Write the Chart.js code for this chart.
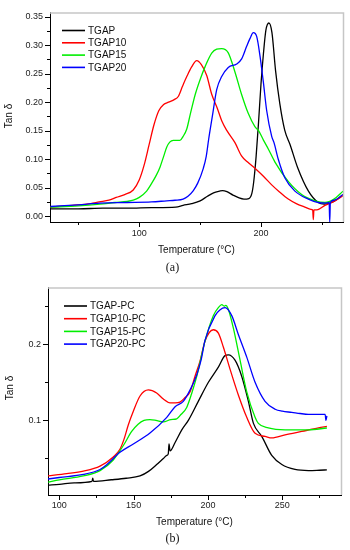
<!DOCTYPE html>
<html>
<head>
<meta charset="utf-8">
<script src="https://cdn.jsdelivr.net/npm/chart.js@4.4.1/dist/chart.umd.min.js"></script>
<style>
  body { margin: 0; background: #fff; width: 350px; height: 550px; position: relative; overflow: hidden;
         font-family: "Liberation Sans", Arial, sans-serif; }
  canvas { position: absolute; left: 0; }
  .t { position: absolute; font-size: 10px; color: #111; white-space: nowrap; transform: translate(-50%, -50%); }
  .yt { transform: translate(-50%, -50%) rotate(-90deg); }
  .cap { font-family: "Liberation Serif", "DejaVu Serif", serif; font-size: 12px; }
</style>
</head>
<body>
<canvas id="chartA" width="350" height="275" style="top:0"></canvas>
<canvas id="chartB" width="350" height="275" style="top:275px"></canvas>
<div class="t yt" style="left:7.5px;top:116px">Tan δ</div>
<div class="t" style="left:196.5px;top:249px">Temperature (°C)</div>
<div class="t cap" style="left:172.5px;top:267px">(a)</div>
<div class="t yt" style="left:9px;top:388px">Tan δ</div>
<div class="t" style="left:194.5px;top:521px">Temperature (°C)</div>
<div class="t cap" style="left:172.5px;top:538px">(b)</div>
<script>
// ---- (a) neat resins ----
const tgapT  = [27, 50, 70, 90, 110, 130, 136, 143, 150, 156, 161, 166, 168.5, 172, 177, 182, 186, 190, 192.5, 194, 196, 198, 200, 202, 204, 206.5, 209, 212, 215.5, 219.5, 224, 230, 239, 247, 252, 258, 263, 267.4];
const tgapV  = [0.013, 0.013, 0.014, 0.014, 0.015, 0.016, 0.019, 0.022, 0.027, 0.035, 0.041, 0.044, 0.045, 0.043, 0.037, 0.032, 0.030, 0.031, 0.040, 0.060, 0.105, 0.165, 0.232, 0.285, 0.326, 0.339, 0.322, 0.255, 0.197, 0.151, 0.125, 0.086, 0.044, 0.024, 0.021, 0.024, 0.030, 0.038];
const tgap10T = [27, 45, 60, 67, 75, 81, 88, 95, 100, 104, 108, 112, 116, 120, 124, 129, 132, 135.5, 139, 143, 147.2, 151, 155.4, 159.5, 164, 168, 172, 178.6, 184, 189, 195, 202, 208.8, 215, 222.4, 229, 236, 241, 242.5, 243, 243.5, 246, 252.6, 260, 267.4];
const tgap10V = [0.016, 0.019, 0.022, 0.025, 0.028, 0.033, 0.038, 0.046, 0.064, 0.090, 0.125, 0.160, 0.185, 0.196, 0.200, 0.205, 0.210, 0.228, 0.245, 0.262, 0.273, 0.266, 0.247, 0.214, 0.190, 0.166, 0.150, 0.129, 0.106, 0.095, 0.084, 0.070, 0.055, 0.043, 0.030, 0.022, 0.016, 0.012, 0.011, -0.006, 0.011, 0.011, 0.019, 0.026, 0.036];
const tgap15T = [27, 50, 67.7, 80, 90, 95, 100, 106, 110, 114, 117, 120, 122.5, 125, 128, 133.4, 136, 139, 142, 146, 150, 154, 159.5, 163.6, 167.7, 173, 178.6, 184, 189.6, 195, 198, 201.9, 206, 211.5, 222.4, 233.4, 244.4, 252.6, 260, 267.4];
const tgap15V = [0.016, 0.018, 0.021, 0.024, 0.026, 0.028, 0.033, 0.044, 0.057, 0.072, 0.086, 0.105, 0.121, 0.130, 0.133, 0.133, 0.140, 0.153, 0.180, 0.214, 0.240, 0.262, 0.286, 0.293, 0.294, 0.287, 0.253, 0.214, 0.180, 0.157, 0.150, 0.134, 0.118, 0.095, 0.061, 0.038, 0.027, 0.024, 0.030, 0.044];
const tgap20T = [27, 50, 67.7, 90, 110, 122.5, 129.3, 136, 140, 144.4, 148, 152.6, 155, 157, 160, 163.6, 167.7, 173.1, 180, 184.1, 188.2, 191, 193.7, 196.5, 199.2, 201.9, 204.7, 208.8, 210.7, 214.2, 219.7, 227.9, 238.9, 247, 253, 256, 256.5, 257, 260, 267.4];
const tgap20V = [0.017, 0.020, 0.023, 0.024, 0.025, 0.027, 0.028, 0.030, 0.035, 0.045, 0.058, 0.084, 0.105, 0.135, 0.175, 0.222, 0.245, 0.261, 0.267, 0.276, 0.298, 0.312, 0.322, 0.315, 0.281, 0.236, 0.185, 0.140, 0.129, 0.100, 0.067, 0.044, 0.030, 0.024, 0.023, 0.024, -0.010, 0.024, 0.028, 0.038];

// ---- (b) PC-modified ----
const pcT   = [92.4, 100, 110, 122, 122.5, 123, 135, 145, 154.3, 160, 165.5, 170, 172.3, 173.3, 173.8, 174.5, 177.9, 182.4, 186.8, 193.5, 200.3, 207, 211.5, 213.7, 218.2, 222.7, 227.2, 230.6, 236.2, 242.9, 249.7, 258.6, 267.6, 275, 280];
const pcV   = [0.015, 0.016, 0.018, 0.020, 0.024, 0.020, 0.022, 0.024, 0.027, 0.033, 0.042, 0.050, 0.054, 0.056, 0.069, 0.060, 0.071, 0.0875, 0.100, 0.125, 0.150, 0.170, 0.185, 0.186, 0.179, 0.158, 0.125, 0.096, 0.079, 0.054, 0.042, 0.0355, 0.034, 0.0345, 0.035];
const pc10T = [92.4, 105, 116.2, 127.4, 136.3, 140.8, 143.5, 146.4, 149.8, 154.3, 159.9, 165.5, 170, 174.5, 178, 181.2, 184.6, 188, 191.3, 194.7, 198, 203.6, 207, 210.4, 214.9, 220.5, 226.1, 231.7, 238.4, 242.9, 251.9, 263.1, 274.3, 280];
const pc10V = [0.027, 0.030, 0.0334, 0.040, 0.052, 0.062, 0.075, 0.094, 0.112, 0.132, 0.140, 0.136, 0.128, 0.123, 0.123, 0.124, 0.130, 0.1375, 0.158, 0.178, 0.204, 0.219, 0.2146, 0.196, 0.167, 0.133, 0.104, 0.083, 0.079, 0.077, 0.081, 0.0855, 0.090, 0.092];
const pc15T = [92.4, 100, 116.2, 127.4, 136.3, 143.1, 148.7, 153, 157, 161, 165, 170, 175, 179, 182, 185.7, 189, 192.5, 198, 203.6, 207, 209.3, 211, 212, 213.7, 217.1, 221.6, 226.1, 231.7, 233.9, 240.6, 251.9, 267.6, 280];
const pc15V = [0.019, 0.022, 0.027, 0.034, 0.048, 0.067, 0.0855, 0.095, 0.100, 0.101, 0.100, 0.098, 0.101, 0.102, 0.108, 0.117, 0.135, 0.158, 0.204, 0.2375, 0.248, 0.252, 0.250, 0.251, 0.246, 0.221, 0.179, 0.1375, 0.104, 0.096, 0.090, 0.0875, 0.0875, 0.090];
const pc20T = [92.4, 100, 116.2, 127.4, 131.9, 140.8, 149.8, 161, 172.3, 177.9, 183.4, 188, 192.5, 195.5, 198, 204.8, 208, 211.5, 216, 220.5, 226.1, 231.7, 238.4, 245.2, 250, 256.4, 262, 267.6, 273, 278.8, 279.4, 280];
const pc20V = [0.023, 0.025, 0.029, 0.0355, 0.0417, 0.058, 0.069, 0.0834, 0.104, 0.118, 0.125, 0.140, 0.160, 0.180, 0.205, 0.2375, 0.245, 0.248, 0.2375, 0.2125, 0.183, 0.150, 0.125, 0.1146, 0.112, 0.1105, 0.109, 0.108, 0.108, 0.108, 0.100, 0.106];

// tick values
const xMajorA = [100, 200];
const xMinorA = [50, 150, 250];
const yMajorA = [0, 0.05, 0.10, 0.15, 0.20, 0.25, 0.30, 0.35];
const yMinorA = [0.025, 0.075, 0.125, 0.175, 0.225, 0.275, 0.325];
const xMajorB = [100, 150, 200, 250];
const xMinorB = [125, 175, 225, 275];
const yMajorB = [0.1, 0.2];
const yMinorB = [0.05, 0.15, 0.25];

const FONT = '"Liberation Sans", Arial, sans-serif';
Chart.defaults.font.family = FONT;

function series(label, ts, vs, color, order) {
  return {
    label,
    data: ts.map((t, i) => ({ x: t, y: vs[i] })),
    borderColor: color,
    borderWidth: 1.3,
    pointRadius: 0,
    fill: false,
    cubicInterpolationMode: 'monotone',
    order
  };
}

// frame box + outward major/minor ticks
const frame = {
  id: 'frame',
  afterDraw(chart, args, o) {
    const { ctx, chartArea: a, scales: { x, y } } = chart;
    ctx.save();
    ctx.strokeStyle = '#c6c6c6';
    ctx.lineWidth = 1.5;
    ctx.beginPath();
    ctx.moveTo(a.left, a.top + 0.5);
    ctx.lineTo(a.right + 0.5, a.top + 0.5);
    ctx.lineTo(a.right + 0.5, a.bottom);
    ctx.stroke();
    ctx.strokeStyle = '#000';
    ctx.lineWidth = 1;
    ctx.beginPath();
    const tx = (v, len) => { const p = Math.round(x.getPixelForValue(v)) + 0.5; ctx.moveTo(p, a.bottom); ctx.lineTo(p, a.bottom + len); };
    const ty = (v, len) => { const p = Math.round(y.getPixelForValue(v)) + 0.5; ctx.moveTo(a.left - len, p); ctx.lineTo(a.left, p); };
    o.xMajor.forEach(v => tx(v, 5));
    o.xMinor.forEach(v => tx(v, 3));
    o.yMajor.forEach(v => ty(v, 5));
    o.yMinor.forEach(v => ty(v, 3));
    ctx.stroke();
    ctx.restore();
  }
};

// legend drawn inside the plot
const inLegend = {
  id: 'inLegend',
  afterDatasetsDraw(chart, args, o) {
    const ctx = chart.ctx;
    ctx.save();
    ctx.font = '10px ' + FONT;
    ctx.textBaseline = 'middle';
    chart.data.datasets.forEach((d, i) => {
      const y = o.y + i * o.row;
      ctx.strokeStyle = d.borderColor;
      ctx.lineWidth = 1.6;
      ctx.beginPath();
      ctx.moveTo(o.x, y);
      ctx.lineTo(o.x + 23, y);
      ctx.stroke();
      ctx.fillStyle = '#111';
      ctx.fillText(d.label, o.x + 26, y + 0.5);
    });
    ctx.restore();
  }
};

function makeChart(id, datasets, cfg) {
  return new Chart(document.getElementById(id), {
    type: 'line',
    data: { datasets },
    plugins: [frame, inLegend],
    options: {
      responsive: false,
      animation: false,
      events: [],
      layout: { padding: cfg.padding },
      plugins: {
        legend: { display: false },
        tooltip: { enabled: false },
        frame: { xMajor: cfg.xMajor, xMinor: cfg.xMinor, yMajor: cfg.yMajor, yMinor: cfg.yMinor },
        inLegend: cfg.legend
      },
      scales: {
        x: {
          type: 'linear',
          min: cfg.xMin, max: cfg.xMax,
          afterBuildTicks: s => { s.ticks = cfg.xMajor.map(v => ({ value: v })); },
          afterFit: s => { s.height = cfg.xHeight; },
          grid: { display: false, drawTicks: false },
          border: { display: true, color: '#000', width: 1 },
          ticks: { font: { size: 9 }, color: '#222', padding: cfg.xPad, maxRotation: 0, autoSkip: false,
                   callback: v => String(v) }
        },
        y: {
          type: 'linear',
          min: cfg.yMin, max: cfg.yMax,
          afterBuildTicks: s => { s.ticks = cfg.yMajor.map(v => ({ value: v })); },
          afterFit: s => { s.width = cfg.yWidth; },
          grid: { display: false, drawTicks: false },
          border: { display: true, color: '#000', width: 1 },
          ticks: { font: { size: 9 }, color: '#222', padding: 7, autoSkip: false,
                   callback: v => v.toFixed(cfg.yDigits) }
        }
      }
    }
  });
}

makeChart('chartA', [
  series('TGAP', tgapT, tgapV, '#000000', 3),
  series('TGAP10', tgap10T, tgap10V, '#ff0000', 2),
  series('TGAP15', tgap15T, tgap15V, '#00ee00', 1),
  series('TGAP20', tgap20T, tgap20V, '#0000ff', 0)
], {
  padding: { top: 5, right: 7, left: 0, bottom: 0 },
  xMin: 26.6, xMax: 267.4, yMin: -0.0102, yMax: 0.3576,
  xMajor: xMajorA, xMinor: xMinorA, yMajor: yMajorA, yMinor: yMinorA,
  xHeight: 53, yWidth: 50, xPad: 6, yDigits: 2,
  legend: { x: 62, y: 30.5, row: 12.3 }
});

makeChart('chartB', [
  series('TGAP-PC', pcT, pcV, '#000000', 3),
  series('TGAP10-PC', pc10T, pc10V, '#ff0000', 2),
  series('TGAP15-PC', pc15T, pc15V, '#00ee00', 1),
  series('TGAP20-PC', pc20T, pc20V, '#0000ff', 0)
], {
  padding: { top: 2, right: 9, left: 0, bottom: 0 },
  xMin: 92.4, xMax: 289.5, yMin: 0.002, yMax: 0.2746,
  xMajor: xMajorB, xMinor: xMinorB, yMajor: yMajorB, yMinor: yMinorB,
  xHeight: 55, yWidth: 48, xPad: 5, yDigits: 1,
  legend: { x: 64, y: 31, row: 12.7 }
});
</script>
</body>
</html>
